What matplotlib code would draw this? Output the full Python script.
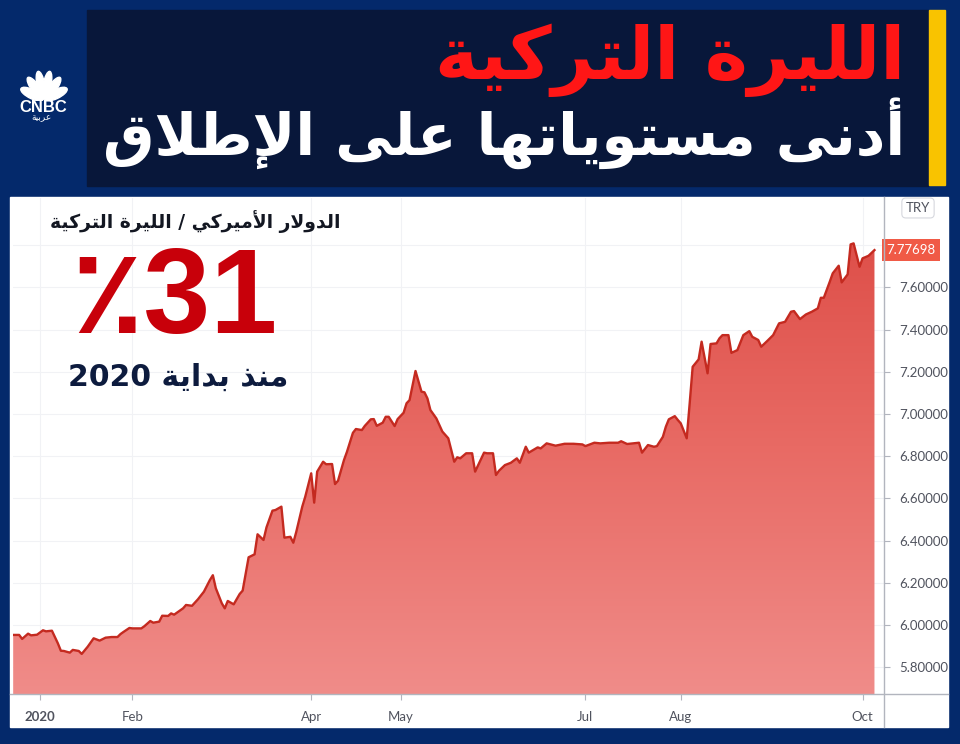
import re
import numpy as np
import matplotlib
matplotlib.use('Agg')
import matplotlib.pyplot as plt
from matplotlib.patches import Rectangle, Polygon, Ellipse
from matplotlib.lines import Line2D
from matplotlib.colors import LinearSegmentedColormap
import matplotlib.transforms as mtransforms

W, H = 960, 744

# texts
title_red = 'الليرة التركية'
title_white = 'أدنى مستوياتها على الإطلاق'
pair_label = 'الدولار الأميركي / الليرة التركية'
change_label = '31٪'
since_label = 'منذ بداية 2020'
logo_sub = 'عربية'

# USD/TRY, x = days since 1 Jan 2020
days = [-9, -7, -6, -4, -3, -1, 1, 2, 4, 6,
        7, 8, 10, 11, 13, 14, 16, 18, 20, 22,
        24, 26, 27, 28, 30, 31, 34, 35, 37, 38,
        40, 41, 43, 44, 45, 48, 49, 51, 53, 55,
        57, 58, 59, 61, 62, 63, 65, 67, 68, 70,
        72, 73, 75, 76, 78, 79, 81, 82, 84, 85,
        86, 88, 89, 91, 92, 93, 95, 96, 98, 99,
        100, 102, 103, 105, 106, 108, 109, 111, 112, 113,
        115, 116, 117, 119, 120, 122, 123, 124, 126, 128,
        129, 130, 131, 133, 135, 137, 139, 140, 141, 143,
        145, 146, 149, 150, 152, 153, 154, 156, 158, 160,
        161, 163, 164, 167, 168, 170, 173, 176, 179, 182,
        183, 186, 188, 191, 194, 195, 197, 199, 201, 202,
        204, 206, 207, 209, 210, 211, 213, 214, 215, 217,
        218, 219, 221, 222, 224, 225, 227, 228, 229, 231,
        232, 234, 236, 238, 239, 241, 242, 244, 246, 248,
        250, 252, 253, 255, 257, 259, 261, 262, 263, 265,
        266, 268, 269, 271, 272, 273, 275, 276, 278, 280]
rates = [5.953, 5.953, 5.934, 5.959, 5.951, 5.954, 5.975, 5.970, 5.973, 5.913,
         5.878, 5.877, 5.869, 5.882, 5.877, 5.863, 5.897, 5.937, 5.926, 5.940,
         5.943, 5.943, 5.957, 5.967, 5.986, 5.984, 5.984, 5.994, 6.019, 6.011,
         6.016, 6.044, 6.043, 6.055, 6.049, 6.079, 6.095, 6.091, 6.122, 6.158,
         6.213, 6.236, 6.174, 6.103, 6.079, 6.114, 6.098, 6.147, 6.163, 6.321,
         6.335, 6.430, 6.403, 6.463, 6.542, 6.545, 6.561, 6.414, 6.418, 6.390,
         6.442, 6.561, 6.608, 6.719, 6.580, 6.727, 6.774, 6.762, 6.763, 6.668,
         6.684, 6.782, 6.821, 6.911, 6.929, 6.924, 6.944, 6.975, 6.976, 6.944,
         6.959, 6.987, 6.987, 6.943, 6.976, 7.006, 7.051, 7.066, 7.204, 7.106,
         7.103, 7.074, 7.019, 6.979, 6.917, 6.885, 6.774, 6.795, 6.790, 6.814,
         6.814, 6.727, 6.817, 6.814, 6.814, 6.711, 6.731, 6.758, 6.769, 6.790,
         6.769, 6.845, 6.817, 6.842, 6.837, 6.861, 6.850, 6.859, 6.859, 6.856,
         6.848, 6.864, 6.861, 6.864, 6.864, 6.871, 6.858, 6.861, 6.864, 6.817,
         6.853, 6.845, 6.848, 6.892, 6.940, 6.975, 6.990, 6.972, 6.956, 6.885,
         7.051, 7.224, 7.259, 7.343, 7.193, 7.332, 7.335, 7.359, 7.374, 7.374,
         7.290, 7.303, 7.374, 7.393, 7.366, 7.351, 7.319, 7.346, 7.374, 7.430,
         7.437, 7.485, 7.488, 7.450, 7.472, 7.485, 7.501, 7.551, 7.551, 7.627,
         7.667, 7.703, 7.624, 7.662, 7.804, 7.809, 7.698, 7.738, 7.750, 7.77698]
last_rate = 7.77698

month_pos = [0, 31, 91, 121, 183, 215, 276]
month_labels = ['2020', 'Feb', 'Apr', 'May', 'Jul', 'Aug', 'Oct']
y_ticks = [5.8, 6.0, 6.2, 6.4, 6.6, 6.8, 7.0, 7.2, 7.4, 7.6]
y_grid_extra = 7.8

# --- tiny arabic shaper (matplotlib has no text shaping) ---
FORMS = {
    '\u0627': (0xFE8D, 2), '\u0623': (0xFE83, 2), '\u0625': (0xFE87, 2),
    '\u0628': (0xFE8F, 4), '\u0629': (0xFE93, 2), '\u062A': (0xFE95, 4),
    '\u062F': (0xFEA9, 2), '\u0630': (0xFEAB, 2), '\u0631': (0xFEAD, 2),
    '\u0633': (0xFEB1, 4), '\u0637': (0xFEC1, 4), '\u0639': (0xFEC9, 4),
    '\u0642': (0xFED5, 4), '\u0643': (0xFED9, 4), '\u0644': (0xFEDD, 4),
    '\u0645': (0xFEE1, 4), '\u0646': (0xFEE5, 4), '\u0647': (0xFEE9, 4),
    '\u0648': (0xFEED, 2), '\u0649': (0xFEEF, 2), '\u064A': (0xFEF1, 4),
}
LAM_ALEF = {'\u0627': 0xFEFB, '\u0623': 0xFEF7, '\u0625': 0xFEF9}


def arabic(s):
    toks = []
    i = 0
    while i < len(s):
        if s[i] == '\u0644' and i + 1 < len(s) and s[i + 1] in LAM_ALEF:
            toks.append((LAM_ALEF[s[i + 1]], 2))
            i += 2
        elif s[i] in FORMS:
            toks.append(FORMS[s[i]])
            i += 1
        else:
            toks.append(s[i])
            i += 1
    out = []
    for k, t in enumerate(toks):
        if isinstance(t, str):
            out.append(t)
            continue
        prev = toks[k - 1] if k > 0 else None
        nxt = toks[k + 1] if k + 1 < len(toks) else None
        jp = isinstance(prev, tuple) and prev[1] == 4
        jn = t[1] == 4 and isinstance(nxt, tuple)
        idx = 3 if (jp and jn) else 1 if jp else 2 if jn else 0
        out.append(chr(t[0] + idx))
    vis = ''.join(out)[::-1]
    return re.sub(r'[0-9]+', lambda m: m.group()[::-1], vis)


def fx(x):
    return x / W


def fy(y):
    return 1 - y / H


def box(x0, y0, x1, y1):
    return [x0 / W, 1 - y1 / H, (x1 - x0) / W, (y1 - y0) / H]


fig = plt.figure(figsize=(W / 100, H / 100), dpi=100, facecolor='#04296b')

# header + panel
fig.add_artist(Rectangle((fx(87), fy(186)), (928 - 87) / W, 176 / H,
                         transform=fig.transFigure, color='#08173a', zorder=0))
fig.add_artist(Rectangle((fx(929), fy(185)), 16 / W, 175 / H,
                         transform=fig.transFigure, color='#f9c300', zorder=0))
fig.add_artist(Rectangle((fx(10), fy(727)), 938 / W, 530 / H,
                         transform=fig.transFigure, color='white', zorder=0))

# chart
ax = fig.add_axes(box(13, 198, 884, 694))
ax.set_facecolor('none')
ymin, ymax = 5.673, 8.024
ax.set_xlim(-9.06, 283.2)
ax.set_ylim(ymin, ymax)

verts = np.vstack([[days[0], ymin], np.column_stack([days, rates]), [days[-1], ymin]])
poly = Polygon(verts, closed=True, facecolor='none', edgecolor='none')
ax.add_patch(poly)
cmap = LinearSegmentedColormap.from_list('fill', ['#f08c89', '#e86a64', '#dc4a44'])
im = ax.imshow(np.linspace(0, 1, 256).reshape(-1, 1), extent=[days[0], days[-1], ymin, ymax],
               origin='lower', aspect='auto', cmap=cmap, zorder=2)
im.set_clip_path(poly)
ax.plot(days, rates, color='#c42a20', lw=1.7, zorder=3)

ax.set_xticks(month_pos)
ax.set_xticklabels(month_labels)
ax.set_yticks(y_ticks)
ax.set_yticklabels(['%.5f' % v for v in y_ticks])
ax.yaxis.tick_right()
ax.grid(color='#f1f2f5', lw=0.8, zorder=0)
ax.axhline(y_grid_extra, color='#f1f2f5', lw=0.8, zorder=0)
for s in ['top', 'left', 'right', 'bottom']:
    ax.spines[s].set_visible(False)
ax.tick_params(axis='both', colors='#b2b5be', labelcolor='#50535e', length=4, width=0.8)
ax.tick_params(axis='y', pad=7)
ax.tick_params(axis='x', pad=8)
for lab in ax.get_xticklabels() + ax.get_yticklabels():
    lab.set_fontfamily('Lato')
    lab.set_fontsize(9.5)
ax.get_xticklabels()[0].set_fontweight('bold')

fig.add_artist(Line2D([fx(884), fx(884)], [fy(197), fy(727)], transform=fig.transFigure,
                      color='#b2b5be', lw=1))
fig.add_artist(Line2D([fx(10), fx(948)], [fy(694), fy(694)], transform=fig.transFigure,
                      color='#b2b5be', lw=1))

trans = mtransforms.blended_transform_factory(ax.transAxes, ax.transData)
ax.text(1.003, last_rate, '%.5f' % last_rate, transform=trans, ha='left', va='center',
        color='white', fontsize=9.5, family='Lato', zorder=5, clip_on=False,
        bbox=dict(boxstyle='square,pad=0.35', fc='#f05a46', ec='none'))
fig.text(fx(918), fy(208), 'TRY', ha='center', va='center', fontsize=9.5, family='Lato',
         color='#50535e', bbox=dict(boxstyle='round,pad=0.3', fc='white', ec='#d6d8de', lw=0.8))

# titles and notes
t1 = fig.text(fx(905), fy(60), arabic(title_red), ha='right', va='center', fontsize=48,
              color='#ff1616', weight='bold', family='DejaVu Sans')
t2 = fig.text(fx(905), fy(133), arabic(title_white), ha='right', va='center', fontsize=44,
              color='white', weight='bold', family='DejaVu Sans')
t3 = fig.text(fx(340), fy(222), arabic(pair_label), ha='right', va='center', fontsize=12,
              color='#131722', weight='bold', family='DejaVu Sans')
t4 = fig.text(fx(174), fy(302), arabic(change_label), ha='center', va='center', fontsize=90,
              color='#c8000a', weight='bold', family=['Liberation Sans', 'DejaVu Sans'])
t5 = fig.text(fx(288), fy(377), arabic(since_label), ha='right', va='center', fontsize=20,
              color='#0d1b3e', weight='bold', family='DejaVu Sans')

renderer = fig.canvas.get_renderer()
for t, wpx in [(t1, 470), (t2, 802), (t3, 290), (t4, 207), (t5, 220)]:
    w = t.get_window_extent(renderer).width
    t.set_fontsize(t.get_fontsize() * wpx / w)

# logo
lax = fig.add_axes(box(20, 68, 68, 101))
lax.set_xlim(-1.15, 1.15)
lax.set_ylim(-0.05, 1.3)
lax.axis('off')
for a in np.linspace(22, 158, 6):
    r = np.radians(a)
    lax.add_patch(Ellipse((0.62 * np.cos(r), 0.62 * np.sin(r)), 1.15, 0.38, angle=a,
                          color='white'))
fig.text(fx(43), fy(107), 'CNBC', ha='center', va='center', fontsize=12, weight='bold',
         color='white', family='Liberation Sans')
fig.text(fx(42), fy(118), arabic(logo_sub), ha='center', va='center', fontsize=6.5,
         color='white', family='DejaVu Sans')

fig.savefig('out.png', dpi=100, facecolor=fig.get_facecolor())
